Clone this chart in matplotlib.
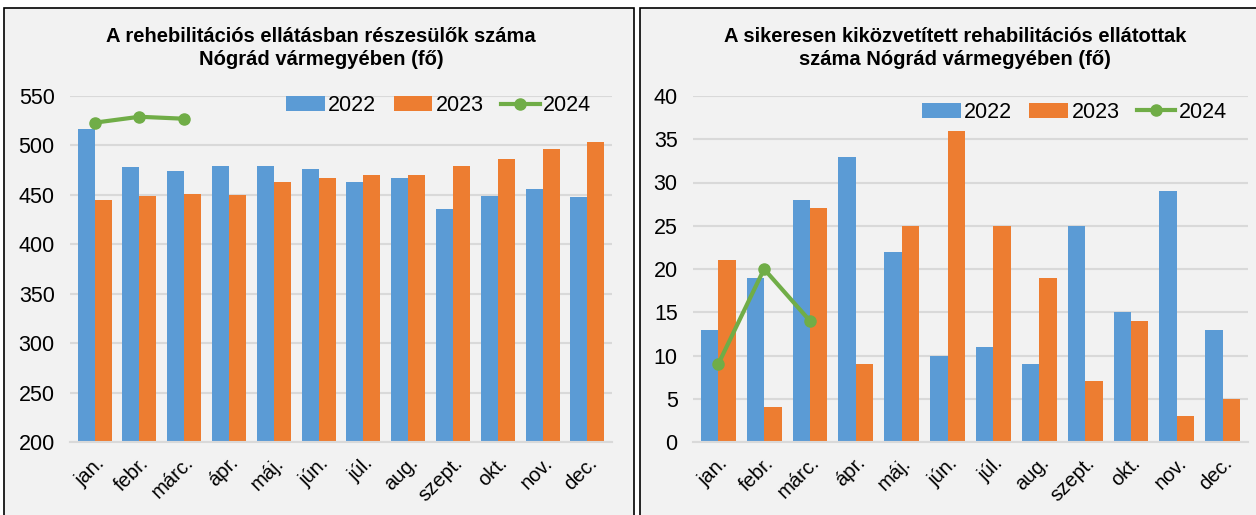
import matplotlib
matplotlib.use('Agg')
import matplotlib.pyplot as plt
from matplotlib.patches import Rectangle
import numpy as np

plt.rcParams['font.family'] = ['Liberation Sans', 'DejaVu Sans']

months = ['jan.', 'febr.', 'márc.', 'ápr.', 'máj.', 'jún.', 'júl.', 'aug.',
          'szept.', 'okt.', 'nov.', 'dec.']

# left chart: persons in rehabilitation care
left_2022 = [517, 478, 474, 479, 479, 476, 463, 467, 436, 449, 456, 448]
left_2023 = [445, 449, 451, 450, 463, 467, 470, 470, 479, 486, 496, 503]
left_2024 = [523, 529, 527]

# right chart: successfully placed persons
right_2022 = [13, 19, 28, 33, 22, 10, 11, 9, 25, 15, 29, 13]
right_2023 = [21, 4, 27, 9, 25, 36, 25, 19, 7, 14, 3, 5]
right_2024 = [9, 20, 14]

blue = '#5B9BD5'
orange = '#ED7D31'
green = '#70AD47'
bg = '#F2F2F2'

W, H = 1256, 515
fig = plt.figure(figsize=(W / 100, H / 100), dpi=100)
fig.patch.set_facecolor('white')

# panel frames (pixel coords -> figure fraction)
for x0, x1 in [(4, 634), (640, 1262)]:
    fig.add_artist(Rectangle((x0 / W, -0.05), (x1 - x0) / W, (H - 8) / H + 0.05,
                             transform=fig.transFigure, facecolor=bg,
                             edgecolor='black', linewidth=1.2, zorder=0))


def draw(rect, title, title_x, d22, d23, d24, ymin, ymax, step, leg_y):
    l, r, top, bot = rect
    ax = fig.add_axes([l / W, 1 - bot / H, (r - l) / W, (bot - top) / H])
    ax.set_facecolor('none')
    x = np.arange(len(months))
    w = 0.38
    b1 = ax.bar(x - w / 2, [v - ymin for v in d22], w, bottom=ymin, color=blue, label='2022', zorder=2)
    b2 = ax.bar(x + w / 2, [v - ymin for v in d23], w, bottom=ymin, color=orange, label='2023', zorder=2)
    l3, = ax.plot(x[:len(d24)], d24, color=green, lw=3, marker='o', ms=8, label='2024', zorder=3)
    ax.set_ylim(ymin, ymax)
    ax.set_xlim(-0.55, len(months) - 0.45)
    ax.set_yticks(np.arange(ymin, ymax + 1, step))
    ax.yaxis.grid(True, color='#D9D9D9', lw=1.5, zorder=0)
    ax.set_axisbelow(True)
    for s in ['top', 'right', 'left']:
        ax.spines[s].set_visible(False)
    ax.spines['bottom'].set_color('#D9D9D9')
    ax.spines['bottom'].set_linewidth(1.5)
    ax.tick_params(length=0, labelsize=15.5, pad=8)
    ax.tick_params(axis='y', pad=11)
    ax.set_xticks(x)
    ax.set_xticklabels(months, rotation=45, ha='right', rotation_mode='anchor', fontsize=14.5)
    ax.legend(handles=[b1, b2, l3], loc='upper right', ncol=3, frameon=False, fontsize=15.5,
              bbox_to_anchor=(0.985, leg_y), handlelength=1.8, handleheight=0.7,
              columnspacing=0.8, handletextpad=0.15, borderaxespad=0.2)
    fig.text(title_x / W, 1 - 48 / H, title, ha='center', va='center',
             fontsize=14.5, fontweight='bold', linespacing=1.25)
    return ax


draw((70, 612, 96, 442), 'A rehebilitációs ellátásban részesülők száma\nNógrád vármegyében (fő)', 321,
     left_2022, left_2023, left_2024, 200, 550, 50, 1.04)
draw((693, 1248, 96, 442), 'A sikeresen kiközvetített rehabilitációs ellátottak\nszáma Nógrád vármegyében (fő)', 955,
     right_2022, right_2023, right_2024, 0, 40, 5, 1.02)

fig.savefig('out.png', dpi=100)
